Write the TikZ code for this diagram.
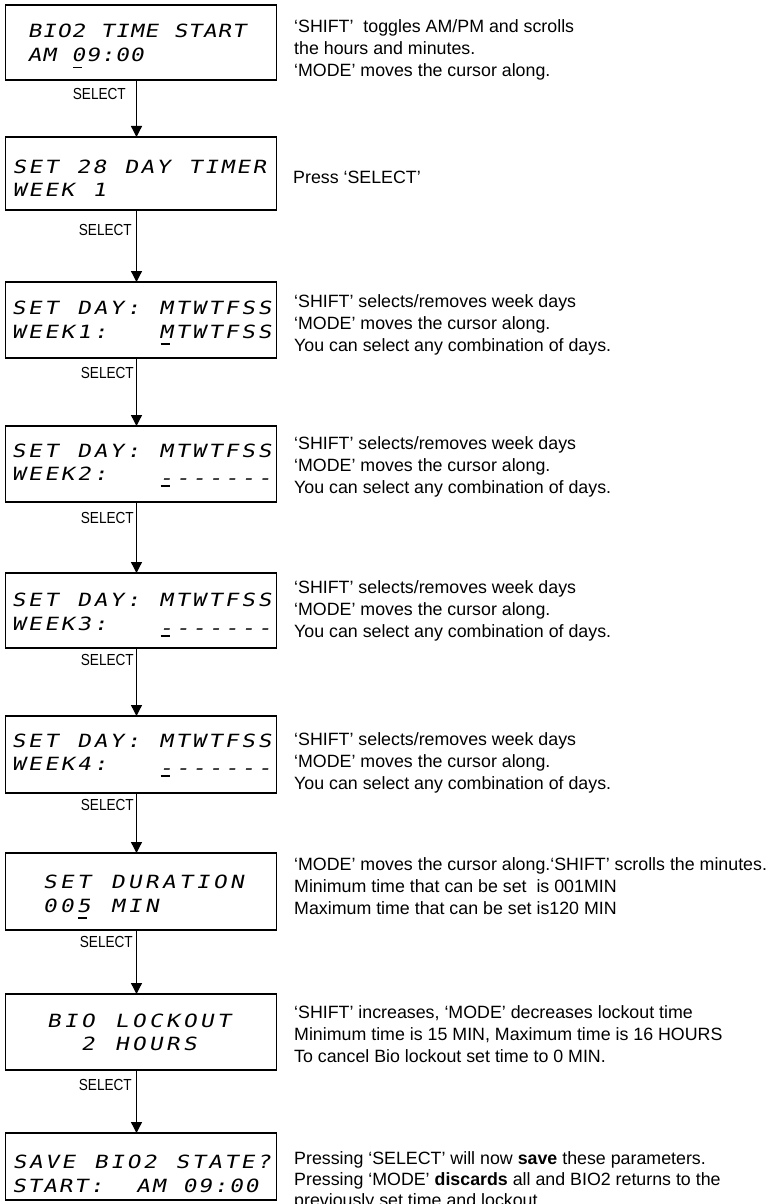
\documentclass[tikz,border=0pt]{standalone}
\usepackage{fontspec}
\setmainfont{Liberation Sans}
\newfontfamily\lcdfont[FakeSlant=0.2,FakeStretch=1.25]{DejaVu Sans Mono}
\newfontfamily\selfont[FakeStretch=0.85]{Liberation Sans}
\usetikzlibrary{arrows.meta}
\makeatletter
\newlength\lcdcw
\newcommand\lcdrow[1]{\@tfor\lcd@c:=#1\do{\makebox[\lcdcw]{\lcd@c}}}
\makeatother
\newcommand\lcd[2]{\setlength\lcdcw{#1pt}\lcdrow{#2}}
\newcommand\cu[1]{\ooalign{#1\cr\hidewidth\kern-1.5pt\raisebox{-6.5pt}{\rule{9pt}{1.3pt}}\hidewidth\cr}}
\newcommand\ds{\raisebox{-4.5pt}{-}}
\begin{document}
\begin{tikzpicture}[x=1pt,y=-1pt,
  lcdbox/.style={draw,line width=1.3pt,anchor=north west,inner sep=0pt,outer sep=0pt,minimum width=271pt,minimum height=#1},
  lcdtxt/.style={anchor=base west,inner sep=0pt,font=\lcdfont\fontsize{18.2}{20}\selectfont},
  desc/.style={anchor=base west,inner sep=0pt,align=left,font=\fontsize{17.8}{22}\selectfont},
  sel/.style={anchor=base east,inner sep=0pt,font=\selfont\fontsize{16}{18}\selectfont},
  arr/.style={line width=1.3pt,-{Triangle[length=11pt,width=11pt]}}]
\useasboundingbox (0,0) rectangle (774,1204);
\fill[white] (0,0) rectangle (774,1204);
\clip (0,0) rectangle (774,1204);

% boxes
\node[lcdbox=75pt] (b1) at (5.5,5) {};
\node[lcdbox=73pt] (b2) at (5.5,137) {};
\node[lcdbox=76pt] (b3) at (5.5,282) {};
\node[lcdbox=76pt] (b4) at (5.5,426) {};
\node[lcdbox=75pt] (b5) at (5.5,573) {};
\node[lcdbox=77pt] (b6) at (5.5,716) {};
\node[lcdbox=77pt] (b7) at (5.5,853) {};
\node[lcdbox=76pt] (b8) at (5.5,994) {};
\node[lcdbox=67pt] (b9) at (5.5,1133) {};

% LCD texts
\node[lcdtxt] (b1a) at (27,38) {\lcd{14.6}{BIO2~TIME~START}};
\node[lcdtxt] (b1b) at (27,62) {\lcd{14.6}{AM~{\cu 0}9:00}};
\node[lcdtxt] (b2a) at (11,173) {\lcd{16}{SET~28~DAY~TIMER}};
\node[lcdtxt] (b2b) at (11,196) {\lcd{16}{WEEK~1}};
\node[lcdtxt] (b3a) at (10,314) {\lcd{16.4}{SET~DAY:~MTWTFSS}};
\node[lcdtxt] (b3b) at (10,338) {\lcd{16.4}{WEEK1:~~~{\cu M}TWTFSS}};
\node[lcdtxt] (b4a) at (10,457) {\lcd{16.4}{SET~DAY:~MTWTFSS}};
\node[lcdtxt] (b4b) at (10,480) {\lcd{16.4}{WEEK2:~~~{\cu\ds}\ds\ds\ds\ds\ds\ds}};
\node[lcdtxt] (b5a) at (10,606) {\lcd{16.4}{SET~DAY:~MTWTFSS}};
\node[lcdtxt] (b5b) at (10,630) {\lcd{16.4}{WEEK3:~~~{\cu\ds}\ds\ds\ds\ds\ds\ds}};
\node[lcdtxt] (b6a) at (10,747) {\lcd{16.4}{SET~DAY:~MTWTFSS}};
\node[lcdtxt] (b6b) at (10,770) {\lcd{16.4}{WEEK4:~~~{\cu\ds}\ds\ds\ds\ds\ds\ds}};
\node[lcdtxt] (b7a) at (41,888) {\lcd{17}{SET~DURATION}};
\node[lcdtxt] (b7b) at (41,912) {\lcd{17}{00{\cu 5}~MIN}};
\node[lcdtxt] (b8a) at (45,1027) {\lcd{17}{BIO~LOCKOUT}};
\node[lcdtxt] (b8b) at (45,1050) {\lcd{17}{~~2~HOURS}};
\node[lcdtxt] (b9a) at (11,1168) {\lcd{16.3}{SAVE~BIO2~STATE?}};
\node[lcdtxt] (b9b) at (11,1192) {\lcd{15.5}{START:~~AM~09:00}};

% arrows
\draw[arr] ([xshift=-4.5pt]b1.south) -- ([xshift=-4.5pt]b2.north);
\draw[arr] ([xshift=-4.5pt]b2.south) -- ([xshift=-4.5pt]b3.north);
\draw[arr] ([xshift=-4.5pt]b3.south) -- ([xshift=-4.5pt]b4.north);
\draw[arr] ([xshift=-4.5pt]b4.south) -- ([xshift=-4.5pt]b5.north);
\draw[arr] ([xshift=-4.5pt]b5.south) -- ([xshift=-4.5pt]b6.north);
\draw[arr] ([xshift=-4.5pt]b6.south) -- ([xshift=-4.5pt]b7.north);
\draw[arr] ([xshift=-4.5pt]b7.south) -- ([xshift=-4.5pt]b8.north);
\draw[arr] ([xshift=-4.5pt]b8.south) -- ([xshift=-4.5pt]b9.north);

% SELECT labels
\node[sel] (s1) at ([xshift=-15pt,yshift=-20pt]b1.south) {SELECT};
\node[sel] (s2) at ([xshift=-9pt,yshift=-25pt]b2.south) {SELECT};
\node[sel] (s3) at ([xshift=-7pt,yshift=-20pt]b3.south) {SELECT};
\node[sel] (s4) at ([xshift=-7pt,yshift=-21pt]b4.south) {SELECT};
\node[sel] (s5) at ([xshift=-7pt,yshift=-17pt]b5.south) {SELECT};
\node[sel] (s6) at ([xshift=-7pt,yshift=-17pt]b6.south) {SELECT};
\node[sel] (s7) at ([xshift=-8pt,yshift=-17pt]b7.south) {SELECT};
\node[sel] (s8) at ([xshift=-9pt,yshift=-20pt]b8.south) {SELECT};

% descriptions (base anchor = baseline of last line)
\node[desc] (t1) at (294,77) {‘SHIFT’\ \ toggles AM/PM and scrolls\\the hours and minutes.\\‘MODE’ moves the cursor along.};
\node[desc] (t2) at (293,183) {Press ‘SELECT’};
\node[desc] (t3) at (294,351) {‘SHIFT’ selects/removes week days\\‘MODE’ moves the cursor along.\\You can select any combination of days.};
\node[desc] (t4) at (294,493) {‘SHIFT’ selects/removes week days\\‘MODE’ moves the cursor along.\\You can select any combination of days.};
\node[desc] (t5) at (294,637) {‘SHIFT’ selects/removes week days\\‘MODE’ moves the cursor along.\\You can select any combination of days.};
\node[desc] (t6) at (294,789) {‘SHIFT’ selects/removes week days\\‘MODE’ moves the cursor along.\\You can select any combination of days.};
\node[desc] (t7) at (294,914) {‘MODE’ moves the cursor along.‘SHIFT’ scrolls the minutes.\\Minimum time that can be set\ \ is 001MIN\\Maximum time that can be set is120 MIN};
\node[desc] (t8) at (294,1062) {‘SHIFT’ increases, ‘MODE’ decreases lockout time\\Minimum time is 15 MIN, Maximum time is 16 HOURS\\To cancel Bio lockout set time to 0 MIN.};
\node[desc,font=\fontsize{17.8}{21}\selectfont] (t9) at (294,1206) {Pressing ‘SELECT’ will now \textbf{save} these parameters.\\Pressing ‘MODE’ \textbf{discards} all and BIO2 returns to the\\previously set time and lockout.};
\end{tikzpicture}
\end{document}
